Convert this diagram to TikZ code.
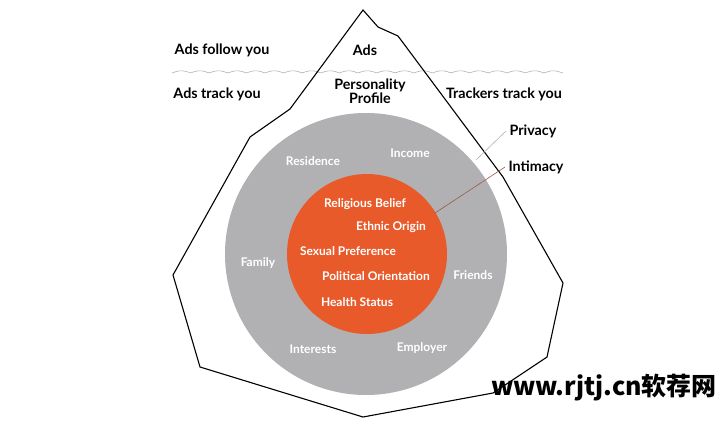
\documentclass[tikz,border=0pt]{standalone}
\usepackage{fontspec}
\setmainfont{Lato}
\newfontfamily\cjkfont{Noto Sans CJK SC}
\usetikzlibrary{positioning}
\definecolor{icegray}{HTML}{B1B1B3}
\definecolor{coreorange}{HTML}{E95A2A}
\definecolor{leadbrown}{HTML}{9C5A48}
\tikzset{
  outer/.style={font=\fontsize{14.3}{15.5}\selectfont\bfseries,text=black,align=center},
  inner/.style={font=\fontsize{12}{13}\selectfont\bfseries,text=white},
  lead/.style={line width=0.6pt},
}

\begin{document}
\begin{tikzpicture}[x=1pt,y=-1pt]
\useasboundingbox (0,0) rectangle (726,434);
\fill[icegray](366,254) circle (141); \fill[coreorange](367,254) circle (80);
% waterline
\draw[gray!60,line width=0.6pt] plot[domain=172:563,samples=300] (\x,{73-2.2*abs(sin((\x-172)*9.677))});
% iceberg
\draw[line width=1.1pt,line join=miter] (363,10)--(378,27)--(398,36)--(503,177)--(563,283)--(547,357)--(493,393)--(363,417)--(200,367)--(173,275)--(250,137)--(290,109)--cycle;
\node[outer] (follow) at (222,50){Ads follow you}; \node[outer] (ads) at (365,50){Ads};
\node[outer] (track) at (217,94){Ads track you}; \node[outer] (profile) at (370,91){Personality\\[-2pt]Profile};
\node[outer] (trackers) at (504,94){Trackers track you};
\node[outer,anchor=west] (privacy) at (506,131){Privacy}; \node[outer,anchor=west] (intimacy) at (505,167){Intimacy};
\coordinate (pv) at (476,160); \coordinate (im) at (435,213);
\draw[lead,gray!60] (pv)--(privacy.west); \draw[lead,leadbrown] (im)--(intimacy.west);
\node[inner] (residence) at (313,161){Residence}; \node[inner] (income) at (410,153){Income};
\node[inner] (religion) at (365,204){Religious Belief}; \node[inner] (ethnic) at (391,227){Ethnic Origin};
\node[inner] (sexual) at (348,251){Sexual Preference}; \node[inner] (family) at (258,263){Family};
\node[inner] (political) at (376,276){Political Orientation}; \node[inner] (friends) at (473,275){Friends};
\node[inner] (health) at (357,302){Health Status};
\node[inner] (interests) at (313,349){Interests}; \node[inner] (employer) at (422,348){Employer};
\node[font=\cjkfont\bfseries\fontsize{25}{27}\selectfont] (mark) at (604,388){www.rjtj.cn软荐网};
\end{tikzpicture}
\end{document}
